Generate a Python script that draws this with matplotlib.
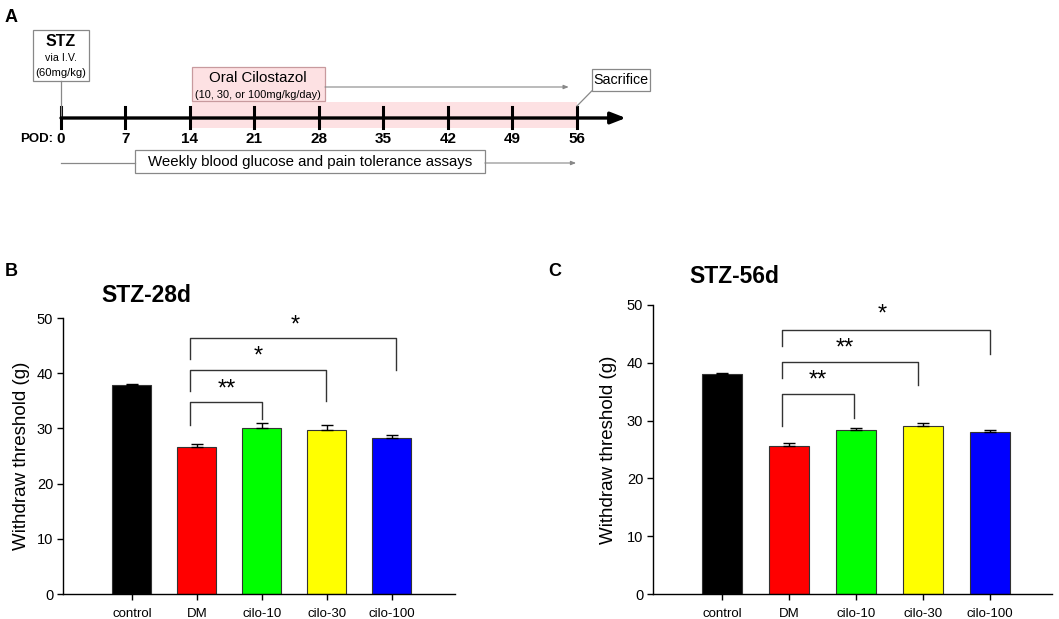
import matplotlib.pyplot as plt
from matplotlib.patches import Rectangle
import numpy as np

plt.rcParams["font.family"] = ["Liberation Sans", "DejaVu Sans"]

# ---- data ----
groups = ["control", "DM", "cilo-10", "cilo-30", "cilo-100"]
bar_colors = ["#000000", "#ff0000", "#00ff00", "#ffff00", "#0000ff"]

mean_28d = [37.9, 26.6, 30.1, 29.7, 28.2]
err_28d = [0.2, 0.6, 0.8, 1.0, 0.6]
mean_56d = [38.0, 25.6, 28.3, 29.1, 28.0]
err_56d = [0.2, 0.6, 0.5, 0.4, 0.4]

# brackets: (x left, x right, top, left leg bottom, right leg bottom, label, label x, label y)
brackets_28d = [
    (0.9, 2.0, 34.8, 30.6, 31.7, "**", 1.46, 37.0),
    (0.9, 2.98, 40.6, 36.7, 34.9, "*", 1.95, 43.0),
    (0.9, 4.06, 46.3, 42.6, 40.6, "*", 2.51, 48.7),
]
brackets_56d = [
    (0.9, 1.97, 34.6, 29.1, 30.4, "**", 1.43, 36.9),
    (0.9, 2.93, 40.1, 37.4, 36.1, "**", 1.84, 42.4),
    (0.9, 4.0, 45.7, 42.9, 41.5, "*", 2.39, 48.3),
]

pod_days = [0, 7, 14, 21, 28, 35, 42, 49, 56]

W, H = 1059, 619
fig = plt.figure(figsize=(W / 100, H / 100), dpi=100)

# ---- panel A: timeline (x in days, y in pixels) ----
ax_a = fig.add_axes([0, 0, 1, 1])
ax_a.set_zorder(-1)
ppd = (577 - 61) / 56.0
ax_a.set_xlim(-61 / ppd, (W - 61) / ppd)
ax_a.set_ylim(H, 0)
ax_a.axis("off")

# pink treatment band
ax_a.add_patch(Rectangle((14.2, 102), 56 - 14.2, 26, facecolor="#fde1e3", edgecolor="none"))
# main axis
ax_a.annotate("", xy=(61.3, 118), xytext=(0, 118),
              arrowprops=dict(arrowstyle="-|>,head_length=0.9,head_width=0.35", lw=2.4, color="black",
                              shrinkA=0, shrinkB=0))
for d in pod_days:
    ax_a.plot([d, d], [107, 128], color="black", lw=2.2)
    ax_a.text(d, 139, str(d), ha="center", va="center", fontsize=11, fontweight="bold")
ax_a.text(-0.9, 139, "POD:", ha="right", va="center", fontsize=9.5, fontweight="bold")

# STZ box
ax_a.plot([0, 0], [81, 118], color="#888888", lw=0.9)
ax_a.add_patch(Rectangle((-3.04, 30), 6.08, 51, facecolor="white", edgecolor="#888888", lw=0.9))
ax_a.text(0, 42, "STZ", ha="center", va="center", fontsize=11.5, fontweight="bold")
ax_a.text(0, 58, "via I.V.", ha="center", va="center", fontsize=7.7)
ax_a.text(0, 73, "(60mg/kg)", ha="center", va="center", fontsize=8.1)

# oral cilostazol box
ax_a.add_patch(Rectangle((14.2, 67), 14.45, 34, facecolor="#fde1e3", edgecolor="#c89a9e", lw=0.9))
ax_a.text(21.4, 78, "Oral Cilostazol", ha="center", va="center", fontsize=10.8)
ax_a.text(21.4, 95, "(10, 30, or 100mg/kg/day)", ha="center", va="center", fontsize=7.9)
ax_a.annotate("", xy=(55.1, 87), xytext=(28.65, 87),
              arrowprops=dict(arrowstyle="-|>,head_length=0.3,head_width=0.12", lw=0.8, color="#888888",
                              shrinkA=0, shrinkB=0))

# sacrifice box
ax_a.add_patch(Rectangle((57.6, 69), 6.3, 22, facecolor="white", edgecolor="#888888", lw=0.9))
ax_a.text(60.75, 80, "Sacrifice", ha="center", va="center", fontsize=10.3)
ax_a.plot([57.6, 56], [91, 106], color="#888888", lw=0.9)

# weekly assays box
ax_a.plot([0, 8.0], [163, 163], color="#888888", lw=0.9)
ax_a.annotate("", xy=(55.9, 163), xytext=(46.0, 163),
              arrowprops=dict(arrowstyle="-|>,head_length=0.3,head_width=0.12", lw=0.8, color="#888888",
                              shrinkA=0, shrinkB=0))
ax_a.add_patch(Rectangle((8.0, 150), 38.0, 23, facecolor="white", edgecolor="#888888", lw=0.9))
ax_a.text(27.0, 162, "Weekly blood glucose and pain tolerance assays", ha="center", va="center",
          fontsize=10.8)

# panel letters
fig.text(5 / W, 1 - 17 / H, "A", fontsize=13, fontweight="bold", va="center")
fig.text(5 / W, 1 - 271 / H, "B", fontsize=13, fontweight="bold", va="center")
fig.text(548 / W, 1 - 271 / H, "C", fontsize=13, fontweight="bold", va="center")


def bar_panel(rect, means, errs, brackets, xlim, title, title_xy, ylab_x):
    ax = fig.add_axes(rect)
    x = np.arange(len(groups))
    ax.bar(x, means, width=0.6, color=bar_colors, edgecolor="#333333", lw=0.8, zorder=2)
    ax.errorbar(x, means, yerr=[np.zeros(len(errs)), errs], fmt="none", ecolor="black",
                elinewidth=1, capsize=4, capthick=1, zorder=3)
    ax.set_xlim(*xlim)
    ax.set_ylim(0, 50)
    ax.set_yticks([0, 10, 20, 30, 40, 50])
    ax.set_xticks(x)
    ax.set_xticklabels(groups, fontsize=9.5)
    ax.tick_params(axis="y", labelsize=10.5, length=4, width=1, direction="out", pad=3)
    ax.tick_params(axis="x", length=4, width=1, direction="out", pad=6)
    for s in ["top", "right"]:
        ax.spines[s].set_visible(False)
    for s in ["left", "bottom"]:
        ax.spines[s].set_linewidth(1)
    ax.set_ylabel("Withdraw threshold (g)", fontsize=13.5)
    ax.yaxis.set_label_coords(ylab_x, 0.5)
    for x0, x1, top, lb, rb, lab, lx, ly in brackets:
        ax.plot([x0, x0, x1, x1], [lb, top, top, rb], color="#333333", lw=1, clip_on=False)
        ax.text(lx, ly, lab, ha="center", va="center", fontsize=17, clip_on=False)
    fig.text(title_xy[0] / W, 1 - title_xy[1] / H, title, fontsize=16.5, fontweight="bold",
             ha="center", va="center")
    return ax


bar_panel([63 / W, 25 / H, 392 / W, 276 / H], mean_28d, err_28d, brackets_28d,
          (-1.06, 4.97), "STZ-28d", (146, 295), -0.085)
bar_panel([653 / W, 25 / H, 399 / W, 289 / H], mean_56d, err_56d, brackets_56d,
          (-1.03, 4.93), "STZ-56d", (734, 276), -0.09)

fig.savefig("out.png", dpi=100)
